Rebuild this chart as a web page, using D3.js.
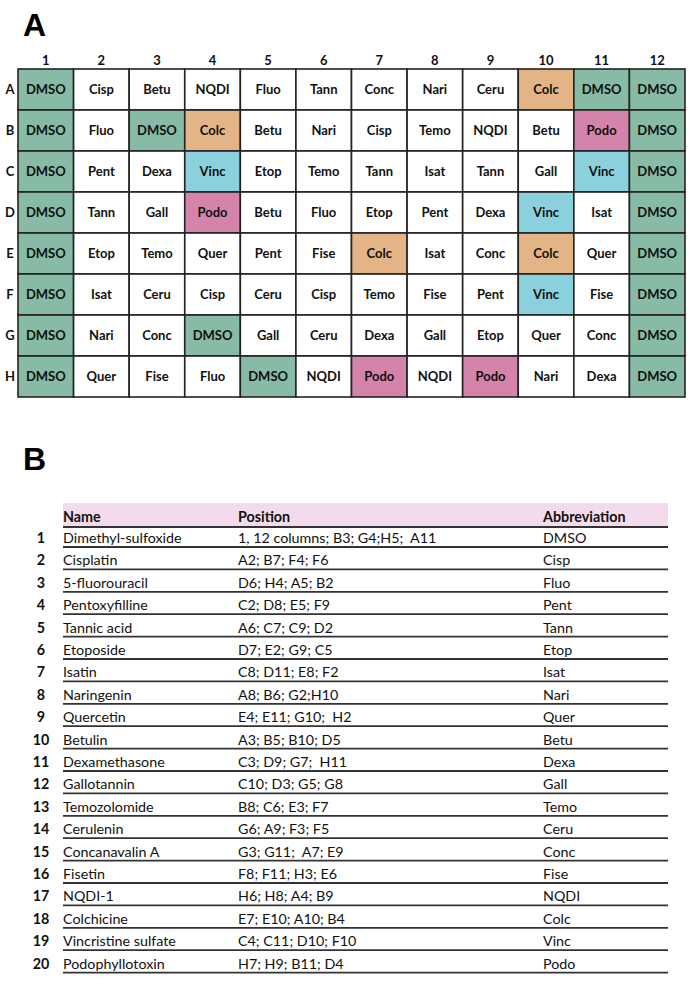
<!DOCTYPE html>
<html>
<head>
<meta charset="utf-8">
<script src="https://cdn.jsdelivr.net/npm/d3@7"></script>
<style>
  html, body { margin: 0; padding: 0; background: #fff; }
  svg { display: block; }
  text { white-space: pre; }
</style>
</head>
<body>
<script>
// ---------- DATA ----------
const plateColumns = ["1","2","3","4","5","6","7","8","9","10","11","12"];
const plateRows = ["A","B","C","D","E","F","G","H"];
const plateA = ["DMSO","Cisp","Betu","NQDI","Fluo","Tann","Conc","Nari","Ceru","Colc","DMSO","DMSO"];
const plateB = ["DMSO","Fluo","DMSO","Colc","Betu","Nari","Cisp","Temo","NQDI","Betu","Podo","DMSO"];
const plateC = ["DMSO","Pent","Dexa","Vinc","Etop","Temo","Tann","Isat","Tann","Gall","Vinc","DMSO"];
const plateD = ["DMSO","Tann","Gall","Podo","Betu","Fluo","Etop","Pent","Dexa","Vinc","Isat","DMSO"];
const plateE = ["DMSO","Etop","Temo","Quer","Pent","Fise","Colc","Isat","Conc","Colc","Quer","DMSO"];
const plateF = ["DMSO","Isat","Ceru","Cisp","Ceru","Cisp","Temo","Fise","Pent","Vinc","Fise","DMSO"];
const plateG = ["DMSO","Nari","Conc","DMSO","Gall","Ceru","Dexa","Gall","Etop","Quer","Conc","DMSO"];
const plateH = ["DMSO","Quer","Fise","Fluo","DMSO","NQDI","Podo","NQDI","Podo","Nari","Dexa","DMSO"];
const plateGrid = [plateA, plateB, plateC, plateD, plateE, plateF, plateG, plateH];

const highlightNames = ["DMSO","Colc","Vinc","Podo"];
const highlightColors = ["#87bba5","#e3b486","#8bd0dd","#d483aa"];

const tableHeaders = ["Name","Position","Abbreviation"];
const compoundNames = ["Dimethyl-sulfoxide","Cisplatin","5-fluorouracil","Pentoxyfilline","Tannic acid","Etoposide","Isatin","Naringenin","Quercetin","Betulin","Dexamethasone","Gallotannin","Temozolomide","Cerulenin","Concanavalin A","Fisetin","NQDI-1","Colchicine","Vincristine sulfate","Podophyllotoxin"];
const compoundPositions = ["1, 12 columns; B3; G4;H5;  A11","A2; B7; F4; F6","D6; H4; A5; B2","C2; D8; E5; F9","A6; C7; C9; D2","D7; E2; G9; C5","C8; D11; E8; F2","A8; B6; G2;H10","E4; E11; G10;  H2","A3; B5; B10; D5","C3; D9; G7;  H11","C10; D3; G5; G8","B8; C6; E3; F7","G6; A9; F3; F5","G3; G11;  A7; E9","F8; F11; H3; E6","H6; H8; A4; B9","E7; E10; A10; B4","C4; C11; D10; F10","H7; H9; B11; D4"];
const compoundAbbrevs = ["DMSO","Cisp","Fluo","Pent","Tann","Etop","Isat","Nari","Quer","Betu","Dexa","Gall","Temo","Ceru","Conc","Fise","NQDI","Colc","Vinc","Podo"];

// ---------- DRAW ----------
const W = 691, H = 988;
const FONT = "Lato, 'Open Sans', sans-serif";
const svg = d3.select("body").append("svg").attr("width", W).attr("height", H)
  .style("font-family", FONT);

// Panel A
svg.append("text").attr("x", 23).attr("y", 36)
  .attr("font-family", "'Liberation Sans', Arial, sans-serif")
  .attr("font-size", 32).attr("font-weight", "bold").text("A");

const x = d3.scaleBand().domain(plateColumns).range([18, 685]).padding(0);
const y = d3.scaleBand().domain(plateRows).range([69, 397]).padding(0);
const color = d3.scaleOrdinal().domain(highlightNames).range(highlightColors).unknown("#ffffff");

const cells = [];
plateGrid.forEach((row, ri) => row.forEach((v, ci) => cells.push({r: plateRows[ri], c: plateColumns[ci], v})));

const plate = svg.append("g");
plate.selectAll("rect.cell").data(cells).join("rect").attr("class", "cell")
  .attr("x", d => x(d.c)).attr("y", d => y(d.r))
  .attr("width", x.bandwidth()).attr("height", y.bandwidth())
  .attr("fill", d => color(d.v))
  .attr("stroke", "#222").attr("stroke-width", 1.6);

plate.selectAll("text.cell").data(cells).join("text").attr("class", "cell")
  .attr("x", d => x(d.c) + x.bandwidth() / 2)
  .attr("y", d => y(d.r) + y.bandwidth() / 2)
  .attr("dy", "0.35em").attr("text-anchor", "middle")
  .attr("font-size", 13).attr("font-weight", "bold").attr("fill", "#111")
  .text(d => d.v);

// column labels
plate.selectAll("text.col").data(plateColumns).join("text").attr("class", "col")
  .attr("x", d => x(d) + x.bandwidth() / 2).attr("y", 60)
  .attr("dy", "0.35em").attr("text-anchor", "middle")
  .attr("font-size", 13).attr("font-weight", "bold").attr("fill", "#111").text(d => d);

// row labels
plate.selectAll("text.row").data(plateRows).join("text").attr("class", "row")
  .attr("x", 10).attr("y", d => y(d) + y.bandwidth() / 2)
  .attr("dy", "0.35em").attr("text-anchor", "middle")
  .attr("font-size", 13).attr("font-weight", "bold").attr("fill", "#111").text(d => d);

// Panel B
svg.append("text").attr("x", 23).attr("y", 470)
  .attr("font-family", "'Liberation Sans', Arial, sans-serif")
  .attr("font-size", 32).attr("font-weight", "bold").text("B");

const tableLeft = 63, tableRight = 668;
const colX = [63, 238, 543];
const rowScale = d3.scaleLinear().domain([0, 19]).range([547, 972.6]);
const TFS = 14.3;

const tbl = svg.append("g");
tbl.append("rect").attr("x", tableLeft).attr("y", 503)
  .attr("width", tableRight - tableLeft).attr("height", 24).attr("fill", "#f4dbec");
tbl.append("line").attr("x1", tableLeft).attr("x2", tableRight)
  .attr("y1", 527).attr("y2", 527).attr("stroke", "#333").attr("stroke-width", 2);
tbl.selectAll("text.hdr").data(tableHeaders).join("text").attr("class", "hdr")
  .attr("x", (d, i) => colX[i]).attr("y", 522)
  .attr("font-size", TFS).attr("font-weight", "bold").attr("fill", "#111").text(d => d);

const rows = compoundNames.map((n, i) => ({i, n, p: compoundPositions[i], a: compoundAbbrevs[i]}));
const rg = tbl.selectAll("g.trow").data(rows).join("g").attr("class", "trow");
rg.append("line").attr("x1", tableLeft).attr("x2", tableRight)
  .attr("y1", d => rowScale(d.i)).attr("y2", d => rowScale(d.i))
  .attr("stroke", "#333").attr("stroke-width", 1.8);
rg.append("text").attr("x", 41).attr("y", d => rowScale(d.i) - 4)
  .attr("text-anchor", "middle").attr("font-size", TFS).attr("font-weight", "bold")
  .attr("fill", "#111").text(d => d.i + 1);
rg.append("text").attr("x", colX[0]).attr("y", d => rowScale(d.i) - 4)
  .attr("font-size", TFS).attr("fill", "#111").text(d => d.n);
rg.append("text").attr("x", colX[1]).attr("y", d => rowScale(d.i) - 4)
  .attr("font-size", TFS).attr("fill", "#111").text(d => d.p);
rg.append("text").attr("x", colX[2]).attr("y", d => rowScale(d.i) - 4)
  .attr("font-size", TFS).attr("fill", "#111").text(d => d.a);
</script>
</body>
</html>
